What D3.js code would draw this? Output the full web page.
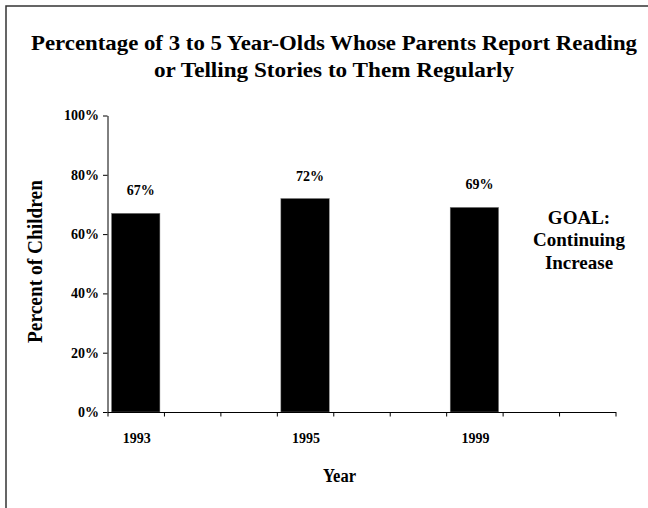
<!DOCTYPE html>
<html lang="en">
<head>
  <meta charset="UTF-8">
  <title>Reading to children</title>
  <style>
    body { margin: 0; background: #fff; }
    svg text { font-family: "Liberation Serif", "Times New Roman", "DejaVu Serif", serif; font-weight: bold; fill: #000; }
  </style>
</head>
<body>
  <svg id="chart" width="648" height="508"></svg>
<script src="https://cdn.jsdelivr.net/npm/d3@7"></script>
<script>
  // data
  let years = ["1993", "1995", "1999"]
  let percents = [67, 72, 69]
  // the category axis has 9 slots, years sit in slots 0, 3 and 6
  let slots = ["1993", "b1", "b2", "1995", "b4", "b5", "1999", "b7", "b8"]
  let yTicks = [0, 20, 40, 60, 80, 100]
  let titleLines = ["Percentage of 3 to 5 Year-Olds Whose Parents Report Reading",
                    "or Telling Stories to Them Regularly"]
  let goalLines = ["GOAL:", "Continuing", "Increase"]

  let serif = "Liberation Serif, Times New Roman, serif"
  let svg = d3.select("#chart")

  // outer frame (only top and left show in the picture)
  svg.append("rect")
     .attr("x", 6).attr("y", 6).attr("width", 660).attr("height", 520)
     .attr("fill", "none").attr("stroke", "#333").attr("stroke-width", 1.5)

  let x = d3.scaleBand().domain(slots).range([107.5, 615.5])
            .paddingInner(0.143).paddingOuter(0.0715)
  let xEdges = d3.scaleLinear().domain([0, slots.length]).range([107.5, 615.5])
  let y = d3.scaleLinear().domain([0, 100]).range([412, 115.5])

  // title
  let titleWidths = [606, 360]
  svg.selectAll(".title").data(titleLines).enter().append("text")
     .attr("class", "title")
     .attr("x", 334).attr("y", (d, i) => 50 + i * 27)
     .attr("text-anchor", "middle")
     .attr("font-family", serif)
     .attr("font-size", 21.5)
     .attr("textLength", (d, i) => titleWidths[i])
     .attr("lengthAdjust", "spacingAndGlyphs")
     .text(d => d)

  // bars
  svg.selectAll(".bar").data(years).enter().append("rect")
     .attr("class", "bar")
     .attr("x", d => x(d))
     .attr("width", x.bandwidth())
     .attr("y", (d, i) => y(percents[i]))
     .attr("height", (d, i) => y(0) - y(percents[i]))
     .attr("fill", "#000")
     .attr("stroke", "#777").attr("stroke-width", 0.5)

  svg.selectAll(".val").data(years).enter().append("text")
     .attr("class", "val")
     .attr("x", d => x(d) + x.bandwidth() / 2 + 5)
     .attr("y", (d, i) => y(percents[i]) - 18)
     .attr("text-anchor", "middle")
     .attr("font-family", serif)
     .attr("font-size", 14)
     .text((d, i) => percents[i] + "%")

  // y axis
  let yAxis = svg.append("g").attr("transform", "translate(107.5,0)")
     .call(d3.axisLeft(y).tickValues(yTicks).tickFormat(d => d + "%")
             .tickSizeInner(4.5).tickSizeOuter(0).tickPadding(4))
  yAxis.attr("font-family", serif)
  yAxis.selectAll("text").attr("font-size", 14)
  yAxis.selectAll("line, path").attr("stroke", "#000")

  // x axis: ticks between slots, labels under the years
  let xAxis = svg.append("g").attr("transform", "translate(0,412)")
     .call(d3.axisBottom(xEdges).tickValues(d3.range(slots.length + 1))
             .tickFormat("").tickSizeInner(4.5).tickSizeOuter(0))
  xAxis.selectAll("line, path").attr("stroke", "#000")

  let xLabels = svg.append("g").attr("transform", "translate(0,412)")
     .call(d3.axisBottom(x).tickValues(years).tickSize(0).tickPadding(21))
  xLabels.attr("font-family", serif)
  xLabels.select(".domain").remove()
  xLabels.selectAll("text").attr("font-size", 14).attr("dx", 1)

  // axis titles
  svg.append("text")
     .attr("x", 339.5).attr("y", 481.5)
     .attr("text-anchor", "middle")
     .attr("font-family", serif).attr("font-size", 18)
     .attr("textLength", 33).attr("lengthAdjust", "spacingAndGlyphs")
     .text("Year")

  svg.append("text")
     .attr("transform", "translate(41.5,261.5) rotate(-90)")
     .attr("text-anchor", "middle")
     .attr("font-family", serif).attr("font-size", 21)
     .attr("textLength", 163).attr("lengthAdjust", "spacingAndGlyphs")
     .text("Percent of Children")

  // goal note
  svg.selectAll(".goal").data(goalLines).enter().append("text")
     .attr("class", "goal")
     .attr("x", 579).attr("y", (d, i) => 223.5 + i * 22.5)
     .attr("text-anchor", "middle")
     .attr("font-family", serif).attr("font-size", 19)
     .text(d => d)
</script>
</body>
</html>
